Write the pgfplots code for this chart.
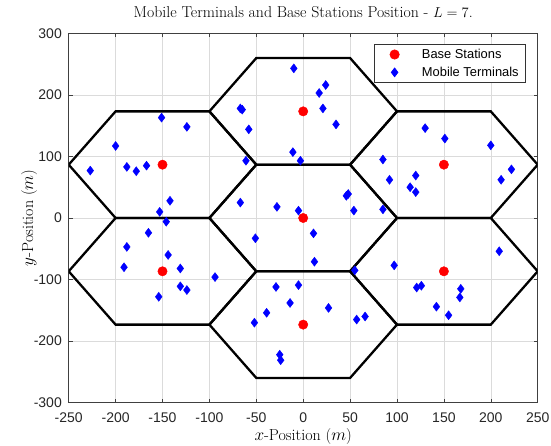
\documentclass[border=0pt]{standalone}
\usepackage{pgfplots}
\pgfplotsset{compat=1.18}
\usepackage{fontspec}
\newfontfamily\arial{Liberation Sans}
\begin{document}
\begin{tikzpicture}
\begin{axis}[
  scale only axis,
  width=469pt, height=369.4pt,
  xmin=-250, xmax=250, ymin=-300, ymax=300,
  xtick={-250,-200,...,250},
  ytick={-300,-200,...,300},
  grid=major,
  major grid style={gray!28, line width=0.5pt},
  axis line style={black!75, line width=0.7pt},
  tick style={black!75, line width=0.6pt},
  tick align=inside,
  major tick length=4pt,
  /pgf/number format/assume math mode=true,
  tick label style={font=\arial\fontsize{14}{16}\selectfont, text=black!85},
  xticklabel style={anchor=base, yshift=-20.3pt, inner sep=0pt},
  yticklabel style={anchor=east, xshift=-6.7pt, inner sep=0pt},
  title={Mobile Terminals and Base Stations Position - $L=7$.},
  title style={font=\fontsize{15.8}{18}\selectfont, at={(axis description cs:0.5,1.0252)}, anchor=base},
  xlabel={$x$-Position ($m$)},
  ylabel={$y$-Position ($m$)},
  label style={font=\fontsize{16}{18}\selectfont},
  xlabel style={at={(axis description cs:0.5,-0.101)}, anchor=base},
  ylabel style={at={(axis description cs:-0.0761,0.5)}, anchor=base},
  legend style={at={(axis description cs:1,1)}, xshift=-11.7pt, yshift=-11pt, anchor=north east,
    draw=black!80, line width=0.6pt,
    font=\arial\fontsize{12.9}{15}\selectfont, inner xsep=5pt, inner ysep=2.5pt, row sep=3pt,
    cells={anchor=west, inner xsep=0pt}},
  legend cell align=left,
  legend image code/.code={\path (-15pt,0pt) (25pt,0pt); \draw[#1] plot coordinates {(0pt,0pt)};},
]
% hexagons
\addplot[black, line width=2.3pt, forget plot] coordinates {
(100,0) (50,86.6) (-50,86.6) (-100,0) (-50,-86.6) (50,-86.6) (100,0)};
\addplot[black, line width=2.3pt, forget plot] coordinates {
(100,173.2) (50,259.8) (-50,259.8) (-100,173.2) (-50,86.6) (50,86.6) (100,173.2)};
\addplot[black, line width=2.3pt, forget plot] coordinates {
(100,-173.2) (50,-86.6) (-50,-86.6) (-100,-173.2) (-50,-259.8) (50,-259.8) (100,-173.2)};
\addplot[black, line width=2.3pt, forget plot] coordinates {
(250,86.6) (200,173.2) (100,173.2) (50,86.6) (100,0) (200,0) (250,86.6)};
\addplot[black, line width=2.3pt, forget plot] coordinates {
(250,-86.6) (200,0) (100,0) (50,-86.6) (100,-173.2) (200,-173.2) (250,-86.6)};
\addplot[black, line width=2.3pt, forget plot] coordinates {
(-50,86.6) (-100,173.2) (-200,173.2) (-250,86.6) (-200,0) (-100,0) (-50,86.6)};
\addplot[black, line width=2.3pt, forget plot] coordinates {
(-50,-86.6) (-100,0) (-200,0) (-250,-86.6) (-200,-173.2) (-100,-173.2) (-50,-86.6)};
% base stations
\addplot[only marks, mark=*, mark size=4.7pt, color=red, fill=red] coordinates {
(0,0) (0,173.2) (0,-173.2) (150,86.6) (150,-86.6) (-150,86.6) (-150,-86.6)};
\addlegendentry{Base Stations}
% mobile terminals
\addplot[only marks, mark=diamond*, mark size=4.5pt, color=blue, fill=blue] coordinates {
(-10,243) (-67,178) (-65,176) (-58,144) (-61,93) (-11,107) (-3,93) (24,216) (17,203) (21,178) (35,152)
(130,146) (151,129) (200,118) (85,95) (92,62) (120,69) (114,50) (120,42) (211,62) (222,79)
(46,36) (48,39) (54,12) (85,14) (-67,25) (-28,18) (-5,12) (-51,-33) (11,-25) (12,-71)
(-151,163) (-124,148) (-200,117) (-227,77) (-188,83) (-178,76) (-167,85) (-142,28) (-153,10) (-146,-6)
(-165,-24) (-188,-47) (-191,-80) (-144,-60) (-131,-82) (-131,-111) (-124,-117) (-154,-128) (-94,-96)
(-29,-112) (-5,-109) (-14,-138) (-39,-154) (-52,-170) (-25,-222) (-24,-231) (27,-146) (57,-165) (66,-160)
(97,-77) (209,-54) (121,-113) (126,-110) (142,-144) (155,-158) (168,-115) (167,-129) (55,-85)};
\addlegendentry{Mobile Terminals}
\coordinate (sw) at (rel axis cs:0,0);
\coordinate (ne) at (rel axis cs:1,1);
\end{axis}
\pgfresetboundingbox
\useasboundingbox ([shift={(-68.7pt,-43.3pt)}]sw) rectangle ([shift={(13.3pt,33.3pt)}]ne);
\end{tikzpicture}
\end{document}
